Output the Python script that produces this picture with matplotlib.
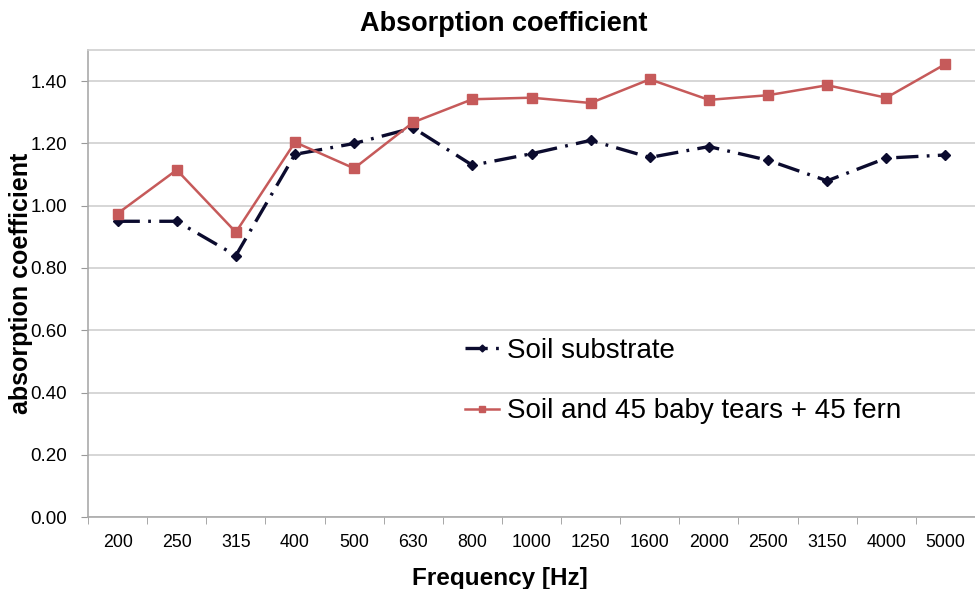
import matplotlib
matplotlib.use("Agg")
import matplotlib.pyplot as plt
import numpy as np

plt.rcParams['font.family'] = ['Liberation Sans', 'DejaVu Sans']
plt.rcParams['lines.scale_dashes'] = False

frequencies = ["200", "250", "315", "400", "500", "630", "800", "1000", "1250",
               "1600", "2000", "2500", "3150", "4000", "5000"]
soil_substrate = [0.95, 0.95, 0.84, 1.165, 1.20, 1.25, 1.13, 1.167, 1.21,
                  1.155, 1.19, 1.146, 1.08, 1.153, 1.163]
soil_plants = [0.975, 1.115, 0.915, 1.204, 1.12, 1.268, 1.342, 1.347, 1.33,
               1.406, 1.34, 1.355, 1.387, 1.347, 1.455]
y_ticks = [0.0, 0.2, 0.4, 0.6, 0.8, 1.0, 1.2, 1.4]

fig = plt.figure(figsize=(9.75, 5.89), dpi=100)
ax = fig.add_axes([0.0903, 0.1222, 0.9097, 0.7928])

x = np.arange(len(frequencies))
ax.plot(x, soil_substrate, color="#0b0b2e", lw=2.4, linestyle=(0, (16, 6, 2, 6)),
        marker="D", markersize=5, markerfacecolor="#0b0b2e", markeredgecolor="#0b0b2e",
        label="Soil substrate", zorder=3)
ax.plot(x, soil_plants, color="#c65a5a", lw=1.8, linestyle="-",
        marker="s", markersize=6.5, markerfacecolor="#c65a5a", markeredgecolor="#c65a5a",
        label="Soil and 45 baby tears + 45 fern", zorder=4)

ax.set_xlim(-0.5, 14.28)
ax.set_ylim(0, 1.5)
ax.set_yticks(y_ticks)
ax.set_yticklabels([f"{v:.2f}" for v in y_ticks], fontsize=13.5)
ax.set_xticks(x)
ax.set_xticklabels(frequencies, fontsize=12.8)
ax.set_xticks(np.arange(-0.5, 15, 1), minor=True)
ax.tick_params(axis='x', which='major', length=0, pad=12)
ax.tick_params(axis='x', which='minor', length=5, color="#999999")
ax.tick_params(axis='y', length=5, color="#999999", pad=10)

ax.grid(axis='y', color="#d0d0d0", lw=1.2)
ax.set_axisbelow(True)
for s in ['left', 'bottom', 'top']:
    ax.spines[s].set_color("#aaaaaa")
    ax.spines[s].set_linewidth(1.2)
ax.spines['top'].set_color("#d0d0d0")
ax.spines['right'].set_visible(False)

fig.text(0.517, 0.960, "Absorption coefficient", fontsize=19.5, fontweight='bold',
         ha='center', va='center')
ax.set_xlabel("Frequency [Hz]", fontsize=17.5, fontweight='bold', labelpad=12, x=0.4645)
ax.set_ylabel("absorption coefficient", fontsize=18, fontweight='bold', labelpad=0)
ax.yaxis.set_label_coords(-0.062, 0.5)

ax.legend(loc='upper left', bbox_to_anchor=(0.425, 0.384), frameon=False,
          fontsize=20, handlelength=1.22, handletextpad=0.3, labelspacing=1.25,
          borderpad=0, borderaxespad=0, markerscale=0.7)

fig.savefig("out.png", dpi=100)
